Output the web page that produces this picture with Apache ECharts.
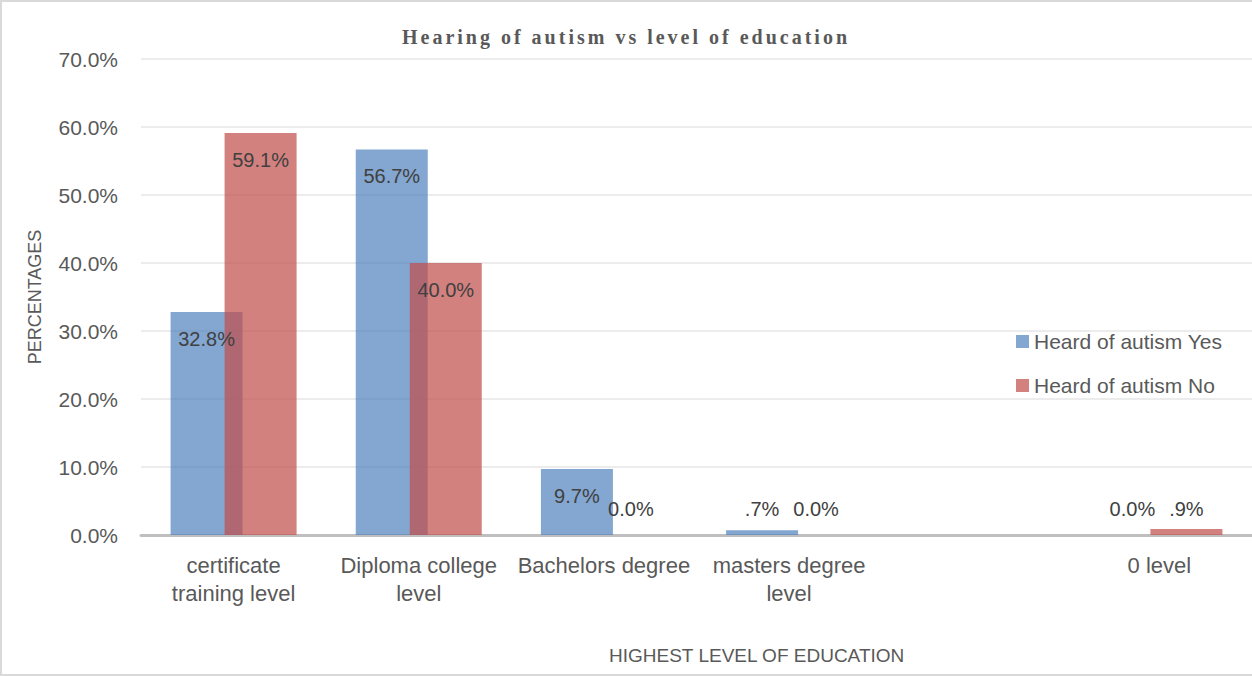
<!DOCTYPE html>
<html>
<head>
<meta charset="utf-8">
<script src="https://cdn.jsdelivr.net/npm/echarts@6/dist/echarts.min.js"></script>
<style>
  html, body { margin: 0; padding: 0; background: #ffffff; }
  #wrap { position: relative; width: 1252px; height: 676px; }
  #chart { width: 1252px; height: 676px; }
  #frame {
    position: absolute; left: 0; top: 0; width: 1252px; height: 676px;
    box-sizing: border-box; border: 2px solid #D9D9D9; border-right: none;
    pointer-events: none;
  }
</style>
</head>
<body>
<div id="wrap"><div id="chart"></div><div id="frame"></div></div>
<script>
// Chart text
const titleText = 'Hearing of autism vs level of education';
const yAxisName = 'PERCENTAGES';
const xAxisName = 'HIGHEST LEVEL OF EDUCATION';

// Education levels (the fifth slot is an unused, unlabelled column)
const categories = [
  'certificate\ntraining level',
  'Diploma college\nlevel',
  'Bachelors degree',
  'masters degree\nlevel',
  '',
  '0 level'
];

// Series names and percentages per education level
const seriesNames = ['Heard of autism Yes', 'Heard of autism No'];
const heardYes = [32.8, 56.7, 9.7, 0.7, '-', 0.0];
const heardNo  = [59.1, 40.0, 0.0, 0.0, '-', 0.9];

// Value axis range (percent)
const yMin = 0, yMax = 70, yStep = 10;

const colors = ['rgba(79,129,189,0.70)', 'rgba(192,80,77,0.72)'];
const FONT = "'Liberation Sans', Arial, sans-serif";

function fmtPct(v) {
  let s = Number(v).toFixed(1);
  if (v > 0 && v < 1) s = s.replace(/^0/, '');
  return s + '%';
}

// Tall bars carry their label inside the top; near-zero bars get it just above the axis
const labelInside = { position: 'insideTop', distance: 17 };
const labelLow = { position: 'insideBottom', distance: 16 };
function toItems(arr) {
  return arr.map(v => (v === '-' ? '-' : { value: v, label: v < 2 ? labelLow : labelInside }));
}

const chart = echarts.init(document.getElementById('chart'), null, { renderer: 'svg' });

const barLabel = {
  show: true,
  color: '#404040',
  fontFamily: FONT,
  fontSize: 20,
  formatter: p => fmtPct(p.value)
};

chart.setOption({
  animation: false,
  backgroundColor: '#ffffff',
  title: {
    text: titleText,
    left: 'center',
    top: 22,
    textStyle: {
      fontFamily: "'Liberation Serif', 'Times New Roman', serif",
      fontWeight: 'bold',
      fontSize: 20,
      color: '#595959'
    }
  },
  legend: {
    orient: 'vertical',
    left: 1011,
    top: 326,
    itemWidth: 13,
    itemHeight: 13,
    itemGap: 23,
    icon: 'rect',
    textStyle: { fontFamily: FONT, fontSize: 21, color: '#595959', lineHeight: 21 },
    data: seriesNames
  },
  grid: { left: 141, right: 0, top: 59, bottom: 141, containLabel: false },
  xAxis: {
    type: 'category',
    data: categories,
    axisTick: { show: false },
    axisLine: { lineStyle: { color: '#BFBFBF', width: 3 } },
    axisLabel: {
      interval: 0,
      margin: 16,
      color: '#595959',
      fontFamily: FONT,
      fontSize: 22,
      lineHeight: 28
    }
  },
  yAxis: {
    type: 'value',
    min: yMin,
    max: yMax,
    interval: yStep,
    name: yAxisName,
    nameLocation: 'middle',
    nameGap: 97,
    nameTextStyle: { fontFamily: FONT, fontSize: 18, color: '#595959' },
    axisLine: { show: false },
    axisTick: { show: false },
    axisLabel: {
      margin: 23,
      color: '#595959',
      fontFamily: FONT,
      fontSize: 21,
      formatter: v => v.toFixed(1) + '%'
    },
    splitLine: { lineStyle: { color: '#E6E6E6', width: 1.5 } }
  },
  graphic: [{
    type: 'text',
    left: 609,
    top: 646,
    style: {
      text: xAxisName,
      fontFamily: FONT,
      fontSize: 19,
      fill: '#595959'
    }
  }],
  series: [
    {
      name: seriesNames[0],
      type: 'bar',
      data: toItems(heardYes),
      barWidth: 72,
      barGap: '-25%',
      itemStyle: { color: colors[0] },
      label: barLabel
    },
    {
      name: seriesNames[1],
      type: 'bar',
      data: toItems(heardNo),
      barWidth: 72,
      barGap: '-25%',
      itemStyle: { color: colors[1] },
      label: barLabel
    }
  ]
});

// Spread the title letters out a little
function spaceTitle() {
  document.querySelectorAll('#chart text').forEach(t => {
    if (t.textContent === titleText) t.setAttribute('letter-spacing', '3px');
  });
}
spaceTitle();
chart.on('finished', spaceTitle);
</script>
</body>
</html>
